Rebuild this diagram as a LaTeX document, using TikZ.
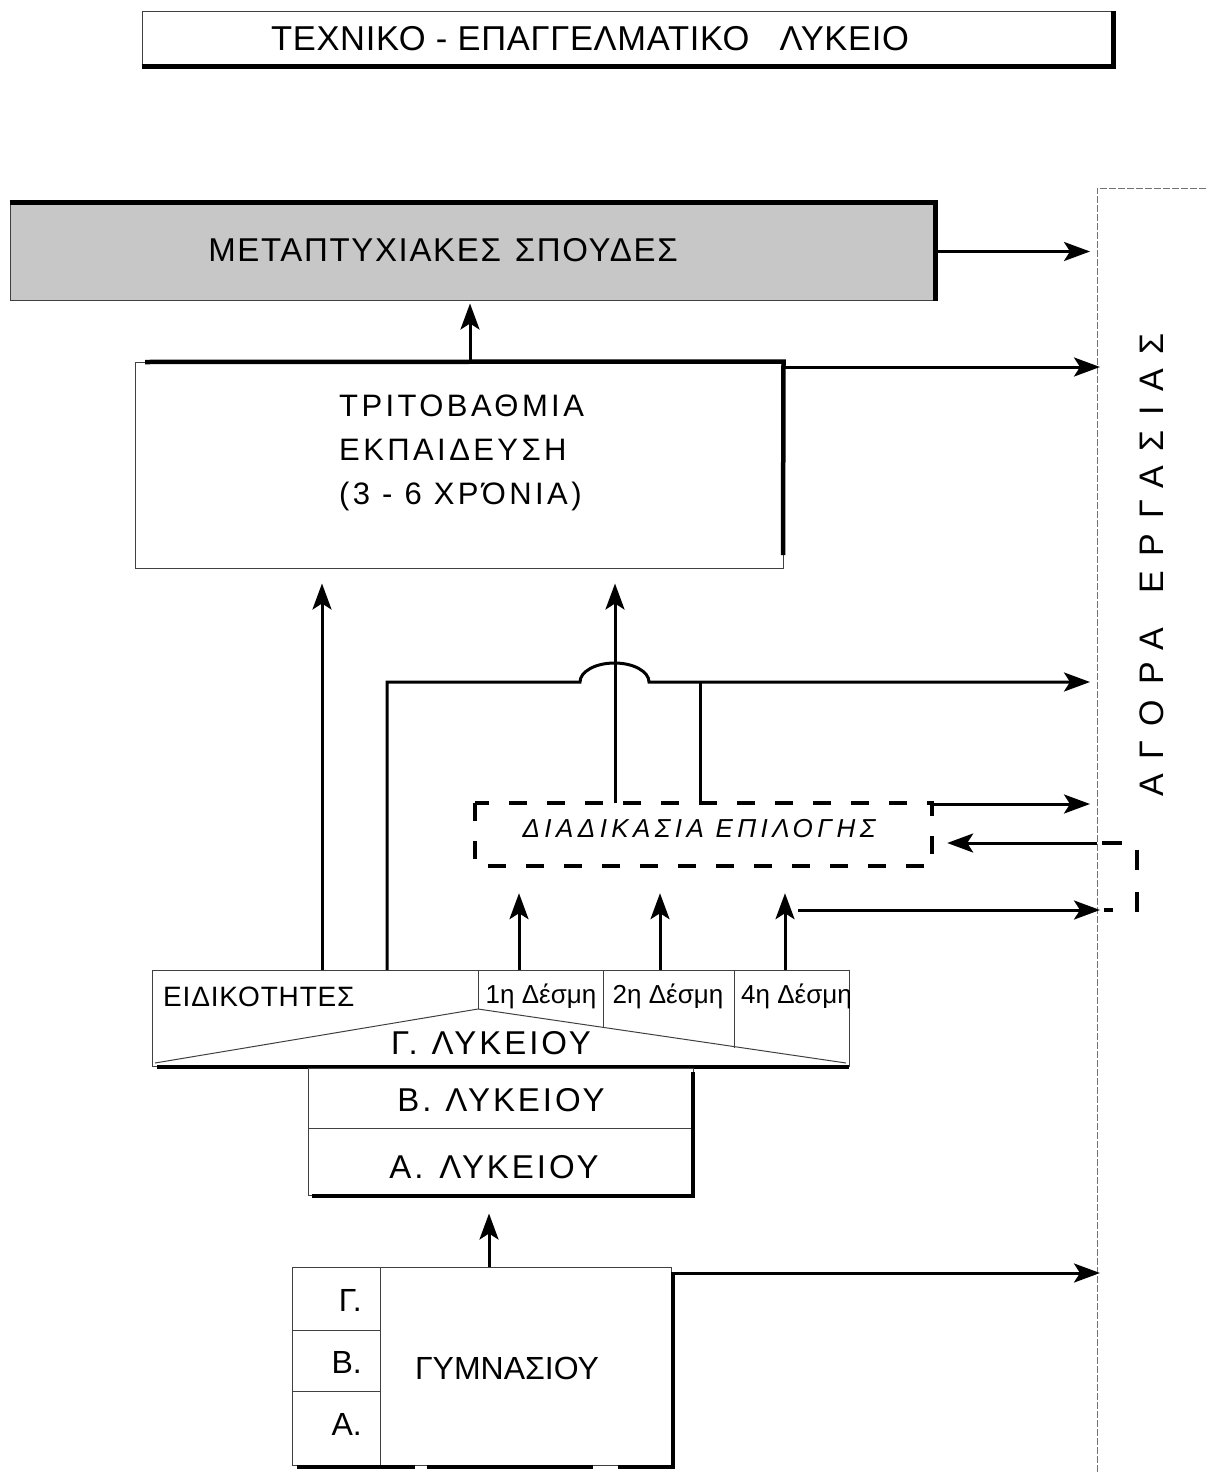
\documentclass[tikz,border=0pt]{standalone}
\usepackage{fontspec}
\setmainfont{Liberation Sans}
\newfontfamily\titlefont[LetterSpace=2]{Liberation Sans}
\newfontfamily\graytext[LetterSpace=5]{Liberation Sans}
\newfontfamily\tertfont[LetterSpace=11]{Liberation Sans}
\newfontfamily\selfont[LetterSpace=17]{Liberation Sans}
\newfontfamily\specfont[LetterSpace=3]{Liberation Sans}
\newfontfamily\gradefont[LetterSpace=9]{Liberation Sans}
\newfontfamily\marketfont[LetterSpace=43]{Liberation Sans}
\usetikzlibrary{arrows.meta,calc}

\tikzset{
  frame/.style={draw=black!75, line width=1pt, inner sep=0pt},
  thinline/.style={draw=black!75, line width=1pt},
  shadowline/.style={line width=4.5pt, line cap=butt},
  conn/.style={line width=3pt},
  arr/.style={conn, -{Stealth[length=26pt,width=19pt,inset=6pt]}},
  market/.style={draw=black!55, line width=1pt, dash pattern=on 7pt off 2pt},
  dbox/.style={line width=3.2pt, dash pattern=on 18pt off 20pt},
  label/.style={inner sep=0pt},
  grade/.style={label, font=\gradefont\fontsize{33}{40}\selectfont},
}

\begin{document}
\begin{tikzpicture}[x=1pt,y=-1pt]
\useasboundingbox (0,0) rectangle (1206,1472);

% ---------- title ----------
\node[frame, minimum width=971pt, minimum height=54pt] (title) at (627.5,39) {};
\draw[shadowline] (title.south west) -- (title.south east) -- (title.north east);
\node[label, font=\titlefont\fontsize{34.5}{40}\selectfont] (titletext) at (590,39)
  {ΤΕΧΝΙΚΟ - ΕΠΑΓΓΕΛΜΑΤΙΚΟ\hspace{30pt}ΛΥΚΕΙΟ};

% ---------- labour market ----------
\draw[market] (1206,188) -- (1097,188) -- (1097,1472);
\node[label, rotate=90, font=\marketfont\fontsize{34}{40}\selectfont] (mlabel) at (1152,565)
  {ΑΓΟΡΑ\hspace{34pt}ΕΡΓΑΣΙΑΣ};
\coordinate (mk) at (1090,0);
\coordinate (mk2) at (1100,0);

% ---------- postgraduate studies ----------
\node[frame, fill=black!22, minimum width=925pt, minimum height=97pt] (post) at (472.5,251.5) {};
\draw[shadowline] (post.north west) -- (post.north east) -- (post.south east);
\node[label, font=\graytext\fontsize{33}{40}\selectfont] (posttext) at (443,250)
  {ΜΕΤΑΠΤΥΧΙΑΚΕΣ\hspace{14pt}ΣΠΟΥΔΕΣ};

% ---------- tertiary education ----------
\node[frame, minimum width=648pt, minimum height=206pt] (tert) at (459,465) {};
\draw[shadowline] (145,362) -- (tert.north east) -- (783,555);
\node[label, anchor=west, align=left, font=\tertfont\fontsize{31}{44}\selectfont] (terttext) at (339,453)
  {ΤΡΙΤΟΒΑΘΜΙΑ\\ΕΚΠΑΙΔΕΥΣΗ\\(3 - 6 ΧΡΌΝΙΑ)};

% ---------- selection procedure ----------
\coordinate (sel-nw) at (475,803);
\coordinate (sel-se) at (932,866);
\draw[dbox] (sel-nw) rectangle (sel-se);
\node[label, inner sep=0pt, minimum width=457pt, minimum height=63pt] (sel) at ($(sel-nw)!0.5!(sel-se)$) {};
\node[label, font=\selfont\itshape\fontsize{26}{30}\selectfont] (seltext) at (699,829)
  {ΔΙΑΔΙΚΑΣΙΑ ΕΠΙΛΟΓΗΣ};

% ---------- 3rd grade: specialties and bundles ----------
\node[frame, minimum width=697pt, minimum height=96pt] (spec) at (500.5,1018) {};
\draw[shadowline] (157,1067) -- (849,1067);
\draw[thinline] (155,1063) -- (478,1009) -- (846,1063);
\draw[thinline] (478,970) -- (478,1009);
\draw[thinline] (603,970) -- (603,1028);
\draw[thinline] (734,970) -- (734,1048);
\node[label, anchor=west, font=\specfont\fontsize{28}{32}\selectfont] (spectext) at (163,997) {ΕΙΔΙΚΟΤΗΤΕΣ};
\node[label, font=\fontsize{26}{30}\selectfont] (b1) at (541,996) {1η Δέσμη};
\node[label, font=\fontsize{26}{30}\selectfont] (b2) at (668,996) {2η Δέσμη};
\begin{scope}
  \clip (spec.north west) rectangle (spec.south east);
  \node[label, anchor=west, font=\fontsize{26}{30}\selectfont] (b4) at (741,996) {4η Δέσμη};
\end{scope}
\node[grade] (g3text) at (491,1043) {Γ.\hspace{14pt}ΛΥΚΕΙΟΥ};

% ---------- 1st and 2nd grade ----------
\node[frame, minimum width=385pt, minimum height=127pt] (lyc) at (500.5,1131.5) {};
\draw[thinline] (308,1128) -- (693,1128);
\draw[shadowline] (693,1072) -- (693,1196) -- (312,1196);
\node[grade] (l2text) at (501,1100) {Β.\hspace{14pt}ΛΥΚΕΙΟΥ};
\node[grade] (l1text) at (494,1167) {Α.\hspace{16pt}ΛΥΚΕΙΟΥ};

% ---------- gymnasium ----------
\node[frame, minimum width=379pt, minimum height=198pt] (gym) at (481.5,1366) {};
\draw[thinline] (380,1267) -- (380,1465);
\draw[thinline] (292,1330) -- (380,1330);
\draw[thinline] (292,1391) -- (380,1391);
\draw[shadowline] (673,1273) -- (673,1467);
\draw[shadowline] (297,1467) -- (415,1467);
\draw[shadowline] (427,1467) -- (593,1467);
\draw[shadowline] (618,1467) -- (675,1467);
\node[label, anchor=east, font=\fontsize{32}{38}\selectfont] (gg) at (362,1300) {Γ.};
\node[label, anchor=east, font=\fontsize{32}{38}\selectfont] (gb) at (362,1362) {Β.};
\node[label, anchor=east, font=\fontsize{32}{38}\selectfont] (ga) at (362,1424) {Α.};
\node[label, font=\fontsize{32}{38}\selectfont] (gymtext) at (507,1368) {ΓΥΜΝΑΣΙΟΥ};

% ---------- connectors ----------
% tertiary -> postgraduate
\coordinate (t1) at (470,362);
\draw[arr, shorten >=3pt] (t1) -- (t1 |- post.south);
% postgraduate / tertiary -> labour market
\draw[arr] (post.east) -- (post.east -| mk);
\coordinate (te) at (783,367);
\draw[arr] (te) -- (te -| mk2);
% specialties -> tertiary
\coordinate (s1) at (322,970);
\draw[arr, shorten >=15pt] (s1) -- (s1 |- tert.south);
% specialties -> labour market, bridging the selection line
\coordinate (s2) at (387,970);
\coordinate (s2up) at (387,682);
\draw[arr] (s2) -- (s2up) -- (580,682)
  arc[start angle=180, end angle=0, x radius=34.5pt, y radius=19pt]
  -- (s2up -| mk);
% selection -> tertiary
\coordinate (d1) at (615,803);
\draw[arr, shorten >=15pt] (d1) -- (d1 |- tert.south);
% selection joins the market line
\coordinate (d3) at (700,803);
\draw[conn] (d3) -- (d3 |- s2up);
% selection -> market, market -> selection
\coordinate (d4) at (932,804);
\draw[arr] (d4) -- (d4 -| mk);
\coordinate (m1) at (1097,843);
\draw[arr, shorten >=15pt] (m1) -- (m1 -| sel.east);
\draw[dbox, dash pattern=on 20pt off 22pt] (1102,843) -- (1137,843) -- (1137,910) -- (1104,910);
% bundles -> selection
\foreach \bx/\bn in {519/1,660/2,785/4}{
  \coordinate (bb\bn) at (\bx,970);
  \draw[arr, shorten >=27pt] (bb\bn) -- (bb\bn |- sel.south);
}
% 4th bundle -> market
\coordinate (b4o) at (798,910);
\draw[arr] (b4o) -- (b4o -| mk2);
% gymnasium -> lyceum
\coordinate (g1) at (489,1267);
\draw[arr, shorten >=18pt] (g1) -- (g1 |- lyc.south);
% gymnasium -> market
\coordinate (g2) at (671,1273);
\draw[arr] (g2) -- (g2 -| mk2);
\end{tikzpicture}
\end{document}
